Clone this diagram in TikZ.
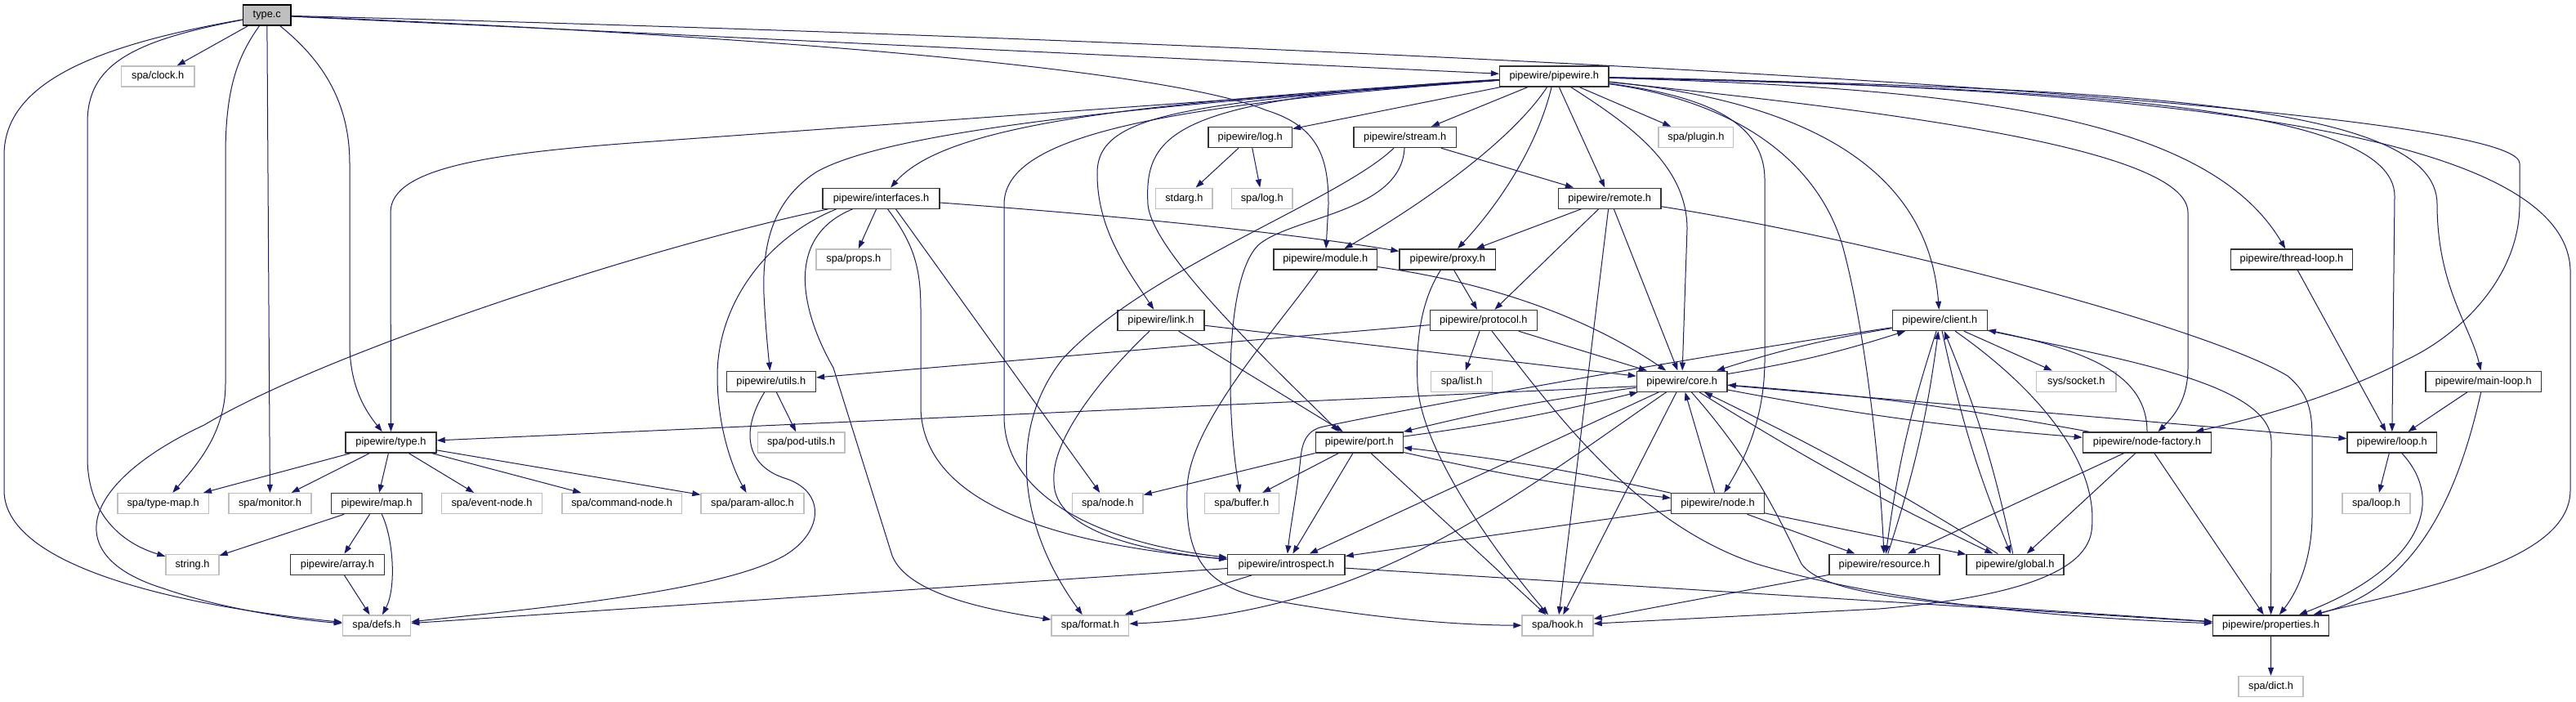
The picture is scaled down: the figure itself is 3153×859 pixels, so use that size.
\documentclass[tikz,border=0pt]{standalone}
\usepackage{fontspec}
\setmainfont{Liberation Sans}
\usetikzlibrary{arrows.meta}
\definecolor{edgecol}{HTML}{191970}
\definecolor{extcol}{HTML}{BFBFBF}
\definecolor{intcol}{HTML}{333333}
\definecolor{rootfill}{HTML}{BFBFBF}
\begin{document}
\begin{tikzpicture}[x=1pt,y=-1pt,
 box/.style={rectangle, minimum height=25pt, inner sep=0pt, line width=1.4pt, fill=white, font=\fontsize{12.8pt}{15pt}\selectfont},
 intn/.style={box, draw=intcol},
 extn/.style={box, draw=extcol},
 rootn/.style={box, draw=black, fill=rootfill},
 lnk/.style={draw=edgecol, line width=1pt, -{Triangle[length=10pt,width=7pt]}},
]
\fill[white] (0,0) rectangle (3153,859);
\useasboundingbox (0,0) rectangle (3153,859);

% ---------------- nodes ----------------
\node[rootn, minimum width=58.7pt] (tc) at (326.8,18.7) {type.c};
\node[extn, minimum width=89.3pt] (clock) at (193.2,93.4) {spa/clock.h};
\node[intn, minimum width=133.5pt] (pw) at (1902.3,93.4) {pipewire/pipewire.h};
\node[intn, minimum width=102.4pt] (log) at (1530.2,168) {pipewire/log.h};
\node[intn, minimum width=125.4pt] (stream) at (1719.7,168) {pipewire/stream.h};
\node[extn, minimum width=91.7pt] (plugin) at (2075.9,168) {spa/plugin.h};
\node[intn, minimum width=143pt] (intf) at (1078.5,242.7) {pipewire/interfaces.h};
\node[extn, minimum width=69.3pt] (stdarg) at (1449.4,242.7) {stdarg.h};
\node[extn, minimum width=74.4pt] (spalog) at (1544.8,242.7) {spa/log.h};
\node[intn, minimum width=125.6pt] (remote) at (1970.2,242.7) {pipewire/remote.h};
\node[extn, minimum width=91.7pt] (props) at (1044.9,317.4) {spa/props.h};
\node[intn, minimum width=126.5pt] (module) at (1622.3,317.4) {pipewire/module.h};
\node[intn, minimum width=117.5pt] (proxy) at (1771.8,317.4) {pipewire/proxy.h};
\node[intn, minimum width=149.3pt] (tloop) at (2805,317.4) {pipewire/thread-loop.h};
\node[intn, minimum width=106pt] (link) at (1421,392) {pipewire/link.h};
\node[intn, minimum width=131pt] (protocol) at (1815.8,392) {pipewire/protocol.h};
\node[intn, minimum width=116pt] (client) at (2374.3,392) {pipewire/client.h};
\node[intn, minimum width=109.2pt] (utils) at (943.8,466.7) {pipewire/utils.h};
\node[extn, minimum width=75pt] (list) at (1789,466.7) {spa/list.h};
\node[intn, minimum width=110.7pt] (core) at (2058.7,466.7) {pipewire/core.h};
\node[extn, minimum width=97.3pt] (socket) at (2541.3,466.7) {sys/socket.h};
\node[intn, minimum width=141.6pt] (mloop) at (3039.6,466.7) {pipewire/main-loop.h};
\node[intn, minimum width=111pt] (type) at (478.5,541.4) {pipewire/type.h};
\node[extn, minimum width=106.6pt] (podutils) at (980.7,541.4) {spa/pod-utils.h};
\node[intn, minimum width=107pt] (port) at (1663.8,541.4) {pipewire/port.h};
\node[intn, minimum width=157.4pt] (nf) at (2628,541.4) {pipewire/node-factory.h};
\node[intn, minimum width=109.3pt] (loop) at (2927.7,541.4) {pipewire/loop.h};
\node[extn, minimum width=111.7pt] (typemap) at (199.7,616.1) {spa/type-map.h};
\node[extn, minimum width=101pt] (monitor) at (330.5,616.1) {spa/monitor.h};
\node[intn, minimum width=110.7pt] (map) at (461,616.1) {pipewire/map.h};
\node[extn, minimum width=122.5pt] (eventnode) at (602,616.1) {spa/event-node.h};
\node[extn, minimum width=146.8pt] (cmdnode) at (761.2,616.1) {spa/command-node.h};
\node[extn, minimum width=126pt] (paramalloc) at (921,616.1) {spa/param-alloc.h};
\node[extn, minimum width=86.7pt] (spanode) at (1355.7,616.1) {spa/node.h};
\node[extn, minimum width=91pt] (buffer) at (1519.8,616.1) {spa/buffer.h};
\node[intn, minimum width=113.6pt] (node) at (2102.5,616.1) {pipewire/node.h};
\node[extn, minimum width=83pt] (spaloop) at (2908.5,616.1) {spa/loop.h};
\node[extn, minimum width=65pt] (string) at (235.5,690.7) {string.h};
\node[intn, minimum width=114.8pt] (array) at (413,690.7) {pipewire/array.h};
\node[intn, minimum width=143.3pt] (intro) at (1574.4,690.7) {pipewire/introspect.h};
\node[intn, minimum width=135pt] (resource) at (2306.5,690.7) {pipewire/resource.h};
\node[intn, minimum width=119pt] (global) at (2466.5,690.7) {pipewire/global.h};
\node[extn, minimum width=83.2pt] (defs) at (461,765.4) {spa/defs.h};
\node[extn, minimum width=94.7pt] (format) at (1334.4,765.4) {spa/format.h};
\node[extn, minimum width=87pt] (hook) at (1906.5,765.4) {spa/hook.h};
\node[intn, minimum width=142pt] (props2) at (2779.6,765.4) {pipewire/properties.h};
\node[extn, minimum width=79pt] (dict) at (2779.5,840) {spa/dict.h};

% ---------------- edges: type.c ----------------
\draw[lnk] (tc) -- (clock);
\draw[lnk] (tc) -- (pw);
\draw[lnk] (tc) -- (monitor);
\draw[lnk] (tc) .. controls (160,50) and (107,80) .. (107,150) -- (107,560) .. controls (107,630) and (150,665) .. (string);
\draw[lnk] (tc) .. controls (120,55) and (5,100) .. (5,190) -- (5,600) .. controls (5,700) and (250,745) .. (defs);
\draw[lnk] (tc) .. controls (290,70) and (276,110) .. (276,190) -- (276,470) .. controls (276,530) and (240,570) .. (typemap);
\draw[lnk] (tc) .. controls (390,70) and (428,120) .. (428,200) -- (428,420) .. controls (428,470) and (445,500) .. (type);
\draw[lnk] (tc) .. controls (900,42) and (1420,82) .. (1550,135) .. controls (1615,155) and (1626,195) .. (1626,250) -- (module);
\draw[lnk] (tc) .. controls (1500,48) and (3084,120) .. (3084,200) -- (3084,250) .. controls (3084,340) and (3010,410) .. (2946,440) .. controls (2860,485) and (2760,512) .. (nf);

% ---------------- edges: pipewire.h ----------------
\draw[lnk] (pw) -- (log);
\draw[lnk] (pw) -- (stream);
\draw[lnk] (pw) -- (plugin);
\draw[lnk] (pw) -- (remote);
\draw[lnk] (pw) .. controls (1845,180) and (1720,262) .. (module);
\draw[lnk] (pw) .. controls (1880,185) and (1830,255) .. (proxy);
\draw[lnk] (pw) .. controls (1400,125) and (1160,150) .. (intf);
\draw[lnk] (pw) -- (800,173) .. controls (600,187) and (478,205) .. (478,260) -- (type);
\draw[lnk] (pw) .. controls (1400,128) and (1090,160) .. (1000,210) .. controls (945,245) and (933,300) .. (935,360) .. controls (937,400) and (940,430) .. (utils);
\draw[lnk] (pw) .. controls (1450,125) and (1345,140) .. (1343,210) .. controls (1342,280) and (1380,330) .. (link);
\draw[lnk] (pw) .. controls (1400,130) and (1229,170) .. (1229,250) -- (1229,510) .. controls (1229,600) and (1330,662) .. (intro);
\draw[lnk] (pw) .. controls (1440,120) and (1400,160) .. (1405,250) .. controls (1410,310) and (1560,450) .. ([xshift=-25pt]port.north);
\draw[lnk] (pw) .. controls (1990,150) and (2065,200) .. (2065,280) -- (core);
\draw[lnk] (pw) .. controls (2090,118) and (2160,150) .. (2160,220) -- (2160,440) .. controls (2160,520) and (2130,570) .. (node);
\draw[lnk] (pw) .. controls (2130,125) and (2225,200) .. (2255,300) .. controls (2280,390) and (2300,550) .. (resource);
\draw[lnk] (pw) .. controls (2250,128) and (2362,230) .. (client);
\draw[lnk] (pw) .. controls (2300,135) and (2678,180) .. (2678,260) -- (2678,450) .. controls (2678,490) and (2660,510) .. (nf);
\draw[lnk] (pw) .. controls (2400,108) and (2700,140) .. (tloop);
\draw[lnk] (pw) .. controls (2500,108) and (2931,125) .. (2931,240) -- (loop);
\draw[lnk] (pw) .. controls (2600,108) and (2983,125) .. (2983,250) .. controls (2983,350) and (3024,400) .. (mloop);
\draw[lnk] (pw) .. controls (2700,108) and (3140,170) .. (3146,330) -- (3146,600) .. controls (3146,690) and (2950,722) .. (props2);

% ---------------- edges: log, stream ----------------
\draw[lnk] (log) -- (stdarg);
\draw[lnk] (log) -- (spalog);
\draw[lnk] (stream) -- (remote);
\draw[lnk] (stream) .. controls (1640,245) and (1400,330) .. (1300,440) .. controls (1230,530) and (1250,650) .. (format);
\draw[lnk] (stream) .. controls (1715,260) and (1580,265) .. (1540,300) .. controls (1500,340) and (1500,500) .. (buffer);

% ---------------- edges: interfaces.h ----------------
\draw[lnk] (intf) .. controls (1450,270) and (1620,292) .. ([yshift=10pt]proxy.west);
\draw[lnk] (intf) -- (props);
\draw[lnk] ([xshift=-65pt]intf.south) .. controls (800,300) and (400,430) .. (250,520) .. controls (100,590) and (70,680) .. (200,720) .. controls (280,748) and (380,760) .. (defs);
\draw[lnk] ([xshift=-55pt]intf.south) .. controls (940,290) and (878,370) .. (878,460) .. controls (878,520) and (895,570) .. (paramalloc);
\draw[lnk] ([xshift=-35pt]intf.south) .. controls (960,290) and (980,380) .. (1020,450) -- (1092,680) .. controls (1110,725) and (1200,745) .. (format);
\draw[lnk] ([xshift=8pt]intf.south) .. controls (1120,300) and (1127,330) .. (1127,380) -- (1127,500) .. controls (1130,600) and (1250,662) .. (intro);
\draw[lnk] ([xshift=18pt]intf.south) -- (spanode);

% ---------------- edges: remote, module, proxy ----------------
\draw[lnk] (remote) -- (proxy);
\draw[lnk] (remote) -- (protocol);
\draw[lnk] (remote) -- (core);
\draw[lnk] (remote) -- (hook);
\draw[lnk] (remote) .. controls (2300,295) and (2700,400) .. (2800,460) .. controls (2830,485) and (2830,510) .. (2830,545) -- (2830,630) .. controls (2830,680) and (2815,720) .. (props2);
\draw[lnk] (module) .. controls (1850,350) and (1960,400) .. (core);
\draw[lnk] (module) .. controls (1565,400) and (1453,520) .. (1453,600) .. controls (1450,690) and (1480,720) .. (1560,735) .. controls (1700,760) and (1800,765) .. (hook);
\draw[lnk] (proxy) -- (protocol);
\draw[lnk] (proxy) .. controls (1738,370) and (1733,420) .. (1735,470) .. controls (1740,560) and (1850,700) .. (hook);
\draw[lnk] (tloop) -- (loop);

% ---------------- edges: link, protocol ----------------
\draw[lnk] (link) -- (core);
\draw[lnk] (link) -- ([xshift=-20pt]port.north);
\draw[lnk] (link) .. controls (1370,440) and (1285,530) .. (1290,590) .. controls (1290,650) and (1400,675) .. (intro);
\draw[lnk] (protocol) -- (list);
\draw[lnk] (protocol) -- (utils);
\draw[lnk] (protocol) -- (core);
\draw[lnk] (protocol) .. controls (1900,500) and (2000,640) .. (2150,690) .. controls (2300,735) and (2500,755) .. (props2);

% ---------------- edges: client ----------------
\draw[lnk] (client) to[bend right=4] (core);
\draw[lnk] (core) to[bend right=4] (client);
\draw[lnk] (client) .. controls (2000,448) and (1700,505) .. (1620,522) .. controls (1600,526) and (1594,540) .. (1592,560) .. controls (1588,600) and (1580,640) .. (intro);
\draw[lnk] (client) to[bend right=5] (resource);
\draw[lnk] (resource) to[bend right=5] (client);
\draw[lnk] (client) to[bend right=5] (global);
\draw[lnk] (global) to[bend right=5] (client);
\draw[lnk] (client) -- (socket);
\draw[lnk] (client) .. controls (2500,480) and (2570,570) .. (2560,650) .. controls (2552,705) and (2450,732) .. (2300,745) -- (hook);
\draw[lnk] (client) .. controls (2600,440) and (2780,470) .. (2780,540) -- (props2);

% ---------------- edges: core ----------------
\draw[lnk] ([yshift=-6pt]core.west) -- (type);
\draw[lnk] (core) to[bend right=3] (port);
\draw[lnk] (port) to[bend right=3] (core);
\draw[lnk] (core) to[bend right=3] (nf);
\draw[lnk] (nf) to[bend right=3] (core);
\draw[lnk] (core) -- (loop);
\draw[lnk] (core) to[bend right=3] (global);
\draw[lnk] (global) to[bend right=3] (core);
\draw[lnk] (core) -- (intro);
\draw[lnk] (core) -- (hook);
\draw[lnk] (core) .. controls (1850,610) and (1680,750) .. (format);
\draw[lnk] (core) .. controls (2150,570) and (2180,640) .. (2205,690) .. controls (2225,718) and (2300,730) .. (2400,740) -- (props2);

% ---------------- edges: port, node, resource ----------------
\draw[lnk] (port) -- (spanode);
\draw[lnk] (port) -- (buffer);
\draw[lnk] (port) -- (intro);
\draw[lnk] (port) -- (hook);
\draw[lnk] (port) to[bend right=3] (node);
\draw[lnk] (node) to[bend right=3] (port);
\draw[lnk] (node) -- (core);
\draw[lnk] (node) -- (intro);
\draw[lnk] (node) -- (resource);
\draw[lnk] (node) -- (global);
\draw[lnk] (resource) -- (hook);

% ---------------- edges: node-factory, loops ----------------
\draw[lnk] (nf) .. controls (2628,460) and (2560,430) .. (client);
\draw[lnk] (nf) -- (global);
\draw[lnk] (nf) -- (resource);
\draw[lnk] (nf) -- (props2);
\draw[lnk] (loop) -- (spaloop);
\draw[lnk] (loop) .. controls (3000,620) and (2950,700) .. (props2);
\draw[lnk] (mloop) -- (loop);
\draw[lnk] (mloop) .. controls (3010,600) and (2960,720) .. (props2);
\draw[lnk] (props2) -- (dict);

% ---------------- edges: introspect, utils ----------------
\draw[lnk] (intro) -- (defs);
\draw[lnk] (intro) -- (format);
\draw[lnk] (intro) -- (props2);
\draw[lnk] (utils) -- (podutils);
\draw[lnk] (utils) .. controls (905,530) and (915,570) .. (960,585) .. controls (1010,600) and (1010,650) .. (960,680) .. controls (880,725) and (650,745) .. (defs);

% ---------------- edges: type, map ----------------
\draw[lnk] (type) -- (typemap);
\draw[lnk] (type) -- (monitor);
\draw[lnk] (type) -- (map);
\draw[lnk] (type) -- (eventnode);
\draw[lnk] (type) -- (cmdnode);
\draw[lnk] (type) -- (paramalloc);
\draw[lnk] (map) -- (string);
\draw[lnk] (map) -- (array);
\draw[lnk] (map) .. controls (482,660) and (485,720) .. (defs);
\draw[lnk] (array) -- (defs);
\end{tikzpicture}
\end{document}
